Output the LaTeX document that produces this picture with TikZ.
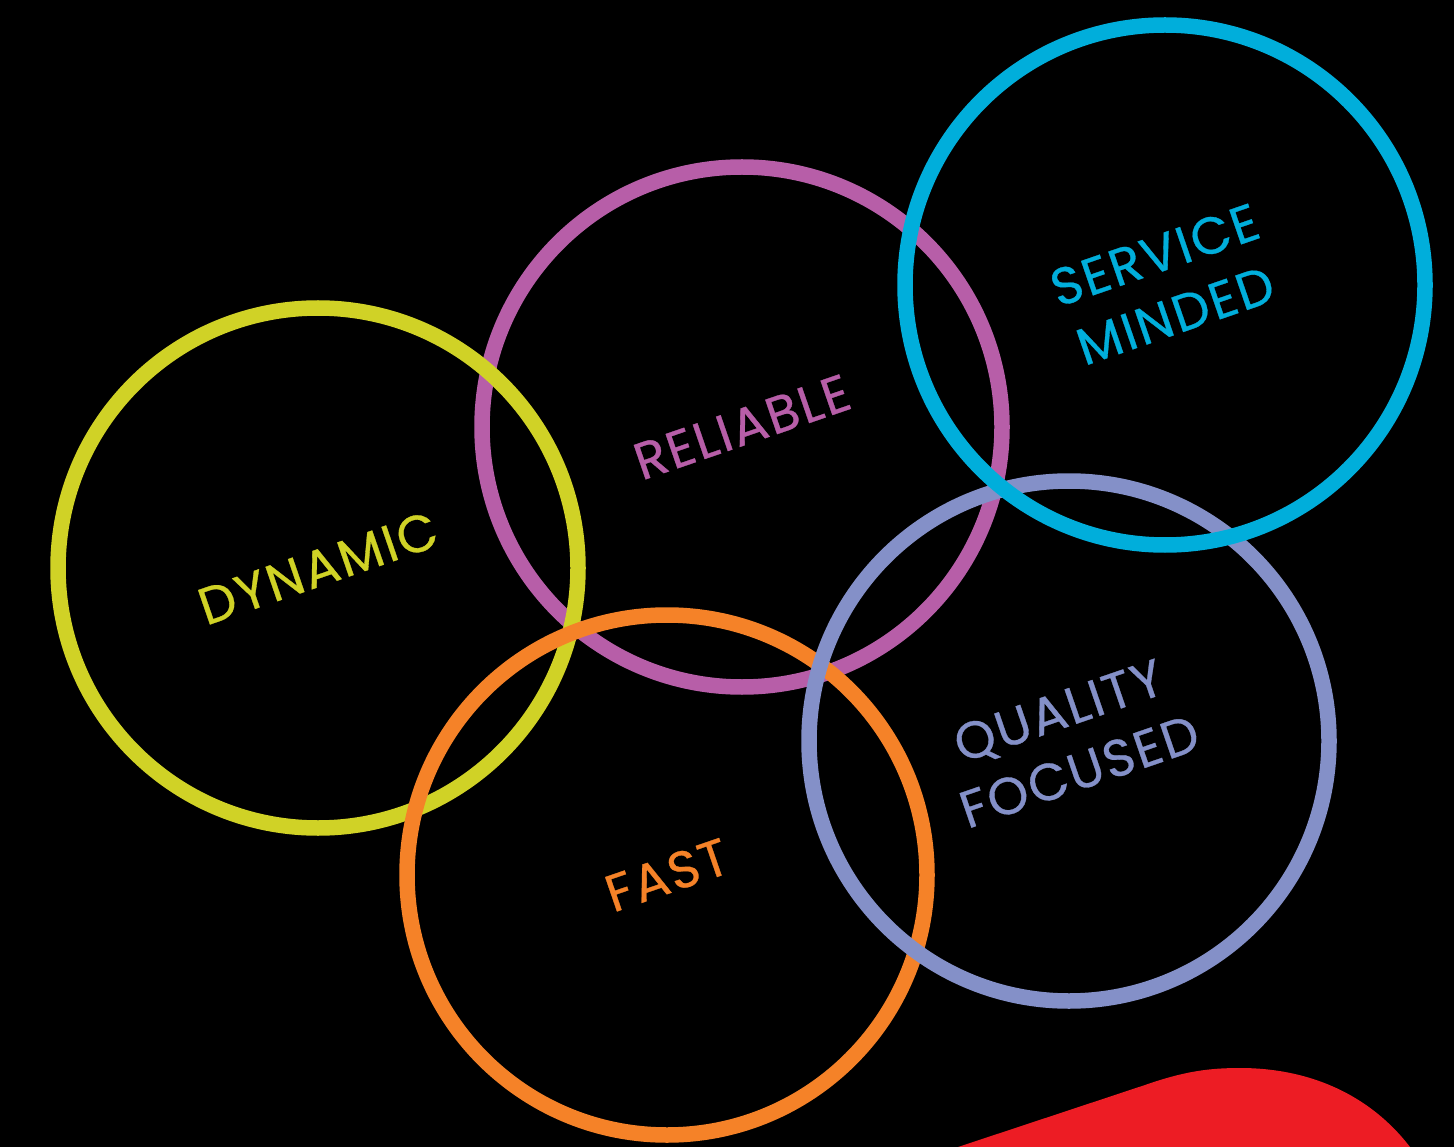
\documentclass[tikz,border=0pt]{standalone}
\usepackage{fontspec}
\setmainfont{Poppins}
\newfontfamily\wordfont[LetterSpace=4,FakeBold=0.6]{Poppins}
\definecolor{cyellow}{RGB}{208,210,38}
\definecolor{cpurple}{RGB}{183,94,168}
\definecolor{ccyan}{RGB}{0,174,219}
\definecolor{corange}{RGB}{245,130,40}
\definecolor{clav}{RGB}{132,144,200}
\definecolor{cred}{RGB}{237,28,36}
\begin{document}
\begin{tikzpicture}[x=1pt,y=-1pt,
  ring/.style={draw=#1, line width=15.5pt, circle, minimum size=520pt, inner sep=0pt},
  word/.style={text=#1, font=\wordfont\fontsize{52}{64}\selectfont, rotate=19, align=center, inner sep=0pt}]
\fill[black] (0,0) rectangle (1454,1147);
\useasboundingbox (0,0) rectangle (1454,1147);
\fill[cred] (958,1147) -- (1145,1085) .. controls (1185,1071) and (1210,1068) .. (1240,1068) .. controls (1310,1068) and (1370,1095) .. (1410,1147) -- cycle;
\node[ring=cpurple] (rreliable) at (742,427) {};
\node[ring=cyellow] (rdynamic) at (318,568) {};
\node[ring=corange] (rfast) at (667,875) {};
\node[ring=clav] (rquality) at (1069,741) {};
\node[ring=ccyan] (rservice) at (1165,285) {};
\node[word=cyellow] (tdynamic) at (rdynamic.center) {DYNAMIC};
\node[word=cpurple] (treliable) at (rreliable.center) {RELIABLE};
\node[word=corange] (tfast) at (rfast.center) {FAST};
\node[word=ccyan] (tservice) at (rservice.center) {SERVICE\\MINDED};
\node[word=clav] (tquality) at (rquality.center) {QUALITY\\FOCUSED};
\end{tikzpicture}
\end{document}
